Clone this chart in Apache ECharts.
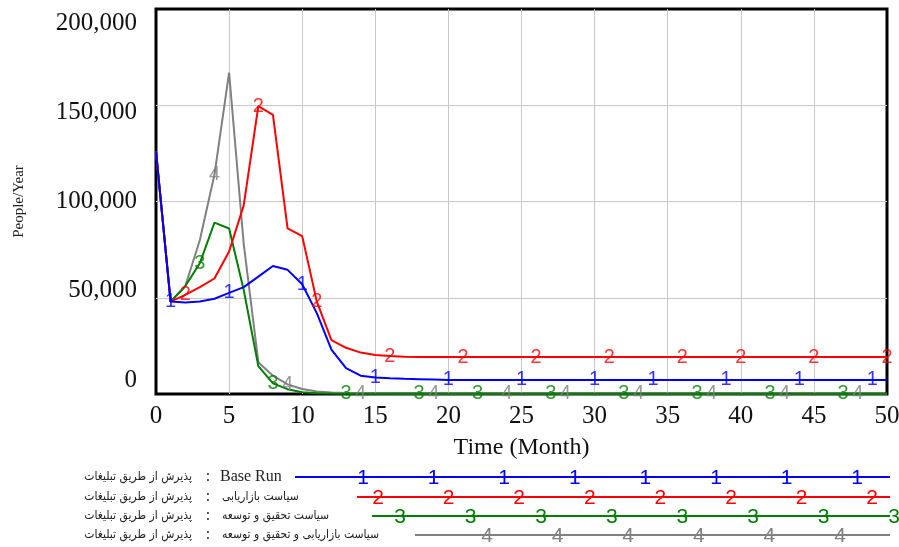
<!DOCTYPE html>
<html><head><meta charset="utf-8">
<script src="https://cdn.jsdelivr.net/npm/echarts@6/dist/echarts.min.js"></script>
<style>html,body{margin:0;padding:0;background:#fff}#c{width:899px;height:547px}</style>
</head><body><div id="c"></div>
<script>
// ---- data ----
const months = [0,1,2,3,4,5,6,7,8,9,10,11,12,13,14,15,16,17,18,19,20,21,22,23,24,25,26,27,28,29,30,31,32,33,34,35,36,37,38,39,40,41,42,43,44,45,46,47,48,49,50];
const baseRun = [126000,48000,47500,48000,49500,52500,55500,61000,66500,64500,
  57000,42000,23000,13500,9500,8600,8200,7900,7700,7500,
  7300,7300,7300,7300,7300,7300,7300,7300,7300,7300,
  7300,7300,7300,7300,7300,7300,7300,7300,7300,7300,
  7300,7300,7300,7300,7300,7300,7300,7300,7300,7300,7300];
const marketing = [126000,48000,51500,55500,60000,74000,98000,149500,145000,86000,
  82000,48000,28000,24000,21500,20300,19700,19400,19200,19200,
  19200,19200,19200,19200,19200,19200,19200,19200,19200,19200,
  19200,19200,19200,19200,19200,19200,19200,19200,19200,19200,
  19200,19200,19200,19200,19200,19200,19200,19200,19200,19200,19200];
const rnd = [126000,48000,56000,68000,89000,86000,54000,14500,5500,2500,
  900,400,200,100,100,100,100,100,100,100,
  100,100,100,100,100,100,100,100,100,100,
  100,100,100,100,100,100,100,100,100,100,
  100,100,100,100,100,100,100,100,100,100,100];
const marketingRnd = [126000,48000,56000,80000,114000,167000,78000,16500,9500,5000,
  2600,1300,800,500,400,250,200,150,100,100,
  100,100,100,100,100,100,100,100,100,100,
  100,100,100,100,100,100,100,100,100,100,
  100,100,100,100,100,100,100,100,100,100,100];
const yTicks = [0,50000,100000,150000,200000];
const xTicks = [0,5,10,15,20,25,30,35,40,45,50];
const varName = 'پذیرش از طریق تبلیغات';
const runNames = ['Base Run','سیاست بازاریابی','سیاست تحقیق و توسعه','سیاست بازاریابی و تحقیق و توسعه'];
const seriesDigits = ['1','2','3','4'];
const markMonths = [
  [1,5,10,15,20,25,30,34,39,44,49],
  [2,7,11,16,21,26,31,36,40,45,50],
  [3,8,13,18,22,27,32,37,42,47],
  [4,9,14,19,24,28,33,38,43,48]
];
const xLabel = 'Time (Month)';
const yLabel = 'People/Year';

// ---- style ----
const colors = ['#0000ff','#ff0000','#008000','#808080'];
const allSeries = [baseRun, marketing, rnd, marketingRnd];
const drawZ = [5,4,3,2];
const persianFont = '"DejaVu Sans Condensed", "DejaVu Sans", sans-serif';

const series = [];
allSeries.forEach((vals, k) => {
  series.push({
    type:'line', name: runNames[k],
    data: months.map((m,i)=>[m, vals[i]]),
    showSymbol:false, symbol:'none',
    lineStyle:{color:colors[k], width:2},
    itemStyle:{color:colors[k]},
    z: drawZ[k], silent:true
  });
  series.push({
    type:'scatter',
    data: markMonths[k].map(m=>[m, vals[months.indexOf(m)]]),
    symbolSize:1, itemStyle:{color:'rgba(0,0,0,0)'},
    label:{show:true, position:'inside', formatter: seriesDigits[k], color:colors[k],
      fontSize:20, fontFamily:'Liberation Sans'},
    z: 10, silent:true
  });
});

// legend graphics
const legY = [477,497,516,535];
const legLineStart = [295,357,372,415];
const legFirstDigit = [363,378,400,487];
const legCount = [8,8,8,6];
const legStep = 70.6;
const graphics = [];
runNames.forEach((rn, k) => {
  graphics.push({type:'text', x:192, y:legY[k], style:{text:varName, align:'right', verticalAlign:'middle',
    fontFamily:persianFont, fontSize:12, fill:'#222'}});
  graphics.push({type:'text', x:208, y:legY[k], style:{text:':', align:'center', verticalAlign:'middle',
    fontFamily:'Liberation Serif', fontSize:16, fill:'#222'}});
  const isLatin = /^[A-Za-z ]+$/.test(rn);
  graphics.push({type:'text', x: isLatin ? 220 : 222, y:legY[k], style:{text:rn, align:'left', verticalAlign:'middle',
    fontFamily: isLatin ? 'Liberation Serif' : persianFont, fontSize: isLatin ? 16 : 12, fill:'#222'}});
  graphics.push({type:'line', shape:{x1:legLineStart[k], y1:legY[k], x2:890, y2:legY[k]},
    style:{stroke:colors[k], lineWidth:2}});
  for (let j=0;j<legCount[k];j++){
    graphics.push({type:'text', x: legFirstDigit[k]+j*legStep, y:legY[k]+1, style:{text:seriesDigits[k],
      align:'center', verticalAlign:'middle', fontFamily:'Liberation Sans', fontSize:21, fill:colors[k]}});
  }
});

const chart = echarts.init(document.getElementById('c'), null, {renderer:'canvas'});
chart.setOption({
  animation:false,
  backgroundColor:'#fff',
  grid:{left:156, right:12, top:9, bottom:153, show:true, borderColor:'#000', borderWidth:3,
    backgroundColor:'transparent', containLabel:false, outerBoundsMode:'none'},
  xAxis:{type:'value', min:0, max:50, interval:5,
    axisLine:{show:false}, axisTick:{show:false},
    splitLine:{show:true, showMinLine:false, showMaxLine:false, lineStyle:{color:'#c8c8c8', width:1}},
    axisLabel:{customValues:xTicks, fontFamily:'Liberation Serif', fontSize:25, color:'#111', margin:10},
    name:xLabel, nameLocation:'middle', nameGap:42,
    nameTextStyle:{fontFamily:'Liberation Serif', fontSize:24, color:'#111'}},
  yAxis:[
    {type:'value', min:0, max:200000, interval:50000, position:'left',
      axisLabel:{show:false}, axisLine:{show:false}, axisTick:{show:false},
      splitLine:{show:true, showMinLine:false, showMaxLine:false, lineStyle:{color:'#c8c8c8', width:1}},
      name:yLabel, nameLocation:'middle', nameGap:129, nameRotate:90,
      nameTextStyle:{fontFamily:'Liberation Serif', fontSize:15, color:'#222'}},
    {type:'value', min:-7843, max:207843, position:'left',
      axisLine:{show:false}, axisTick:{show:false}, splitLine:{show:false},
      axisLabel:{customValues:yTicks, formatter:v=>v.toLocaleString('en-US'),
        fontFamily:'Liberation Serif', fontSize:25, color:'#111', margin:19}}
  ],
  series: series,
  graphic: graphics
});
</script></body></html>
